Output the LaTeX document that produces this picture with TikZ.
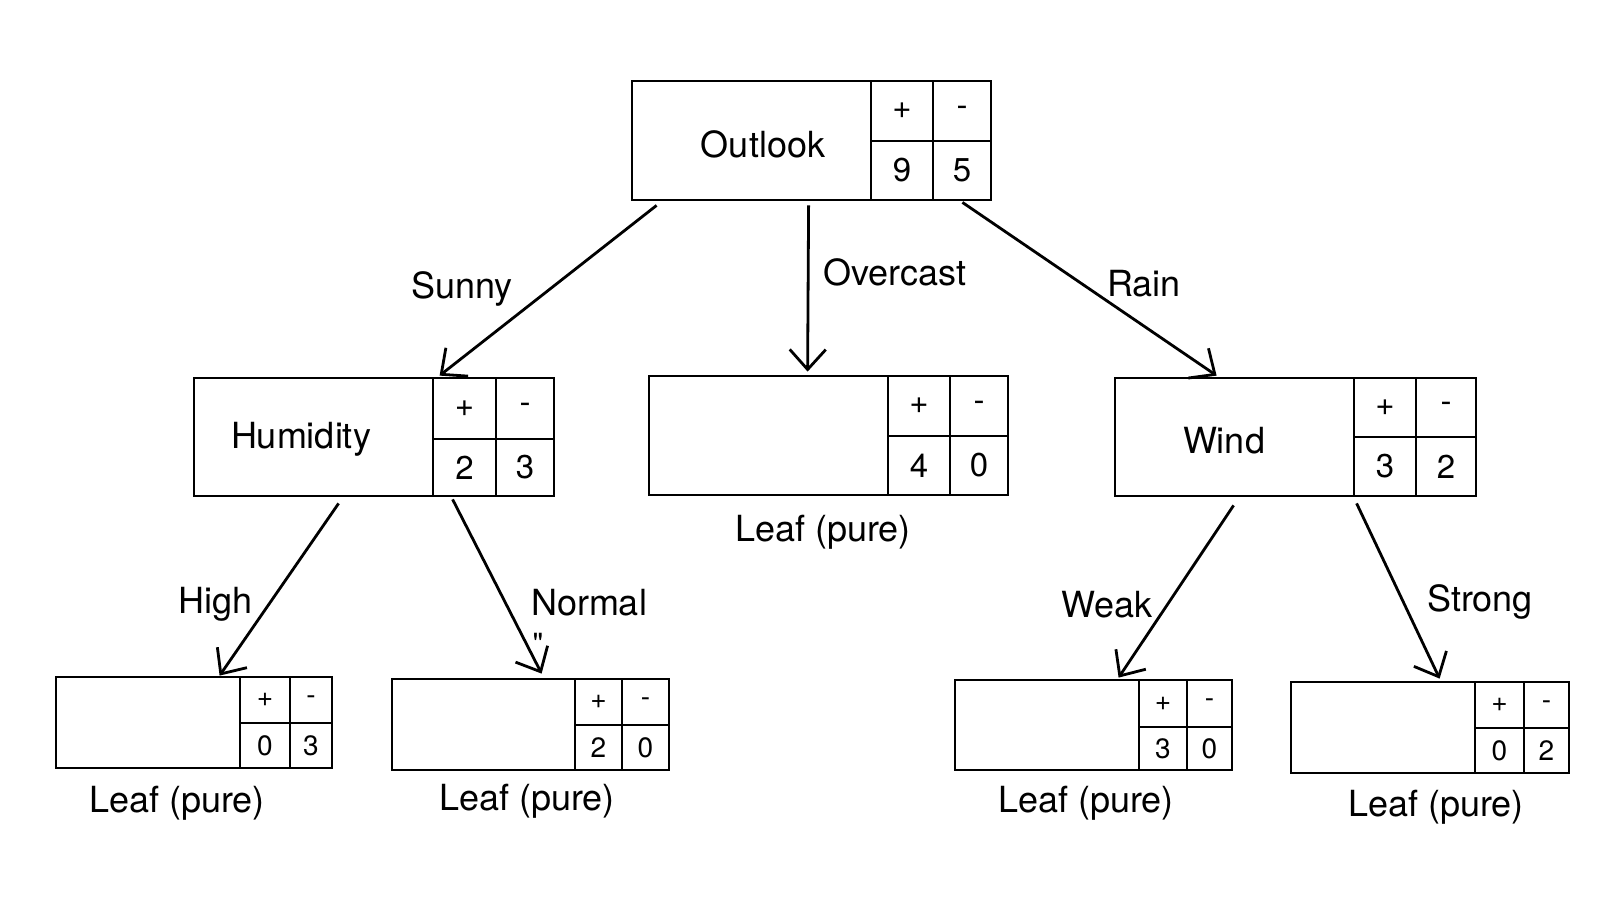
\documentclass[tikz,border=0pt]{standalone}
\usepackage{fontspec}
\setmainfont{TeX Gyre Heros}
\newfontfamily\quotefont{TeX Gyre Heros}
\usetikzlibrary{arrows.meta,calc}

\begin{document}
\begin{tikzpicture}[x=0.5pt, y=-0.5pt, line width=1.4pt,
    box/.style={draw, rectangle, inner sep=0pt},
    lbl/.style={font=\fontsize{18}{21}\selectfont},
    big/.style={font=\fontsize{16.5}{19}\selectfont},
    small/.style={font=\fontsize{14}{16}\selectfont},
    arr/.style={-{Straight Barb[length=10pt, width=18pt]}}]
            \useasboundingbox (0,0) rectangle (1616,911);

            \node[box, minimum width=179.5pt, minimum height=59.5pt] (outlook) at (811.5,140.5) {};
            \node[box, minimum width=180pt, minimum height=59pt] (humidity) at (374,437) {};
            \node[box, minimum width=179.5pt, minimum height=59.5pt] (leafo) at (828.5,435.5) {};
            \node[box, minimum width=180.5pt, minimum height=59pt] (wind) at (1295.5,437) {};
            \node[box, minimum width=138pt, minimum height=45.5pt] (leafh) at (194,722.5) {};
            \node[box, minimum width=138.5pt, minimum height=45.5pt] (leafn) at (530.5,724.5) {};
            \node[box, minimum width=138.5pt, minimum height=45pt] (leafw) at (1093.5,725) {};
            \node[box, minimum width=139pt, minimum height=45.5pt] (leafs) at (1430,727.5) {};

            \draw (871,81) -- (871,200) (933,81) -- (933,200) (871,141) -- (991,141);
            \draw (433,378) -- (433,496) (496,378) -- (496,496) (433,439) -- (554,439);
            \draw (888,376) -- (888,495) (950,376) -- (950,495) (888,436) -- (1008,436);
            \draw (1354,378) -- (1354,496) (1416,378) -- (1416,496) (1354,437) -- (1476,437);
            \draw (240,677) -- (240,768) (290,677) -- (290,768) (240,723) -- (332,723);
            \draw (575,679) -- (575,770) (622,679) -- (622,770) (575,725) -- (669,725);
            \draw (1139,680) -- (1139,770) (1187,680) -- (1187,770) (1139,727) -- (1232,727);
            \draw (1475,682) -- (1475,773) (1524,682) -- (1524,773) (1475,728) -- (1569,728);

            \node[lbl] (toutlook) at (763,144) {Outlook};
            \node[lbl] (thumidity) at (301,439) {Humidity};
            \node[lbl] (twind) at (1224,441) {Wind};

            \node[big] (op) at (902,111) {+};
            \node[big] (om) at (962,111) {-};
            \node[big] (opn) at (902,170.5) {9};
            \node[big] (omn) at (962,170.5) {5};
            \node[big] (hp) at (464.5,408.5) {+};
            \node[big] (hm) at (525,408.5) {-};
            \node[big] (hpn) at (464.5,467.5) {2};
            \node[big] (hmn) at (525,467.5) {3};
            \node[big] (lop) at (919,406) {+};
            \node[big] (lom) at (979,406) {-};
            \node[big] (lopn) at (919,465.5) {4};
            \node[big] (lomn) at (979,465.5) {0};
            \node[big] (wp) at (1385,407.5) {+};
            \node[big] (wm) at (1446,407.5) {-};
            \node[big] (wpn) at (1385,466.5) {3};
            \node[big] (wmn) at (1446,466.5) {2};
            \node[small] (lhp) at (265,700) {+};
            \node[small] (lhm) at (311,700) {-};
            \node[small] (lhpn) at (265,745.5) {0};
            \node[small] (lhmn) at (311,745.5) {3};
            \node[small] (lnp) at (598.5,702) {+};
            \node[small] (lnm) at (645.5,702) {-};
            \node[small] (lnpn) at (598.5,747.5) {2};
            \node[small] (lnmn) at (645.5,747.5) {0};
            \node[small] (lwp) at (1163,703.5) {+};
            \node[small] (lwm) at (1209.5,703.5) {-};
            \node[small] (lwpn) at (1163,748.5) {3};
            \node[small] (lwmn) at (1209.5,748.5) {0};
            \node[small] (lsp) at (1499.5,705) {+};
            \node[small] (lsm) at (1546.5,705) {-};
            \node[small] (lspn) at (1499.5,750.5) {0};
            \node[small] (lsmn) at (1546.5,750.5) {2};

            \node[lbl] (tleafo) at (823,532) {Leaf (pure)};
            \node[lbl] (tleafh) at (177,803) {Leaf (pure)};
            \node[lbl] (tleafn) at (527,801) {Leaf (pure)};
            \node[lbl] (tleafw) at (1086,803) {Leaf (pure)};
            \node[lbl] (tleafs) at (1436,807) {Leaf (pure)};

            \draw[arr] ($(outlook.south west)+(26,4)$) -- ($(humidity.north west)+(247,-1)$);
            \draw[arr] ($(outlook.south west)+(178,4)$) -- ($(leafo.north west)+(160,-3)$);
            \draw[arr] ($(outlook.south east)+(-30,1)$) -- ($(wind.north west)+(103,-1)$);
            \draw[arr] ($(humidity.south west)+(146,6)$) -- ($(leafh.north west)+(165,0)$);
            \draw[arr] ($(humidity.south west)+(260,2)$) -- ($(leafn.north west)+(151,-4)$);
            \draw[arr] ($(wind.south west)+(120,8)$) -- ($(leafw.north west)+(165,-1)$);
            \draw[arr] ($(wind.south west)+(243,6)$) -- ($(leafs.north west)+(150,-2)$);

            \node[lbl] (tsunny) at (462,289) {Sunny};
            \node[lbl] (tovercast) at (895,272) {Overcast};
            \node[lbl] (train) at (1144,284) {Rain};
            \node[lbl] (thigh) at (216,604) {High};
            \node[lbl] (tnormal) at (589,603) {Normal};
            \node[font=\quotefont\fontsize{15}{17}\selectfont] (tquote) at (538,644) {"};
            \node[lbl] (tweak) at (1107,605) {Weak};
            \node[lbl] (tstrong) at (1480,602) {Strong};
        \end{tikzpicture}
\end{document}
